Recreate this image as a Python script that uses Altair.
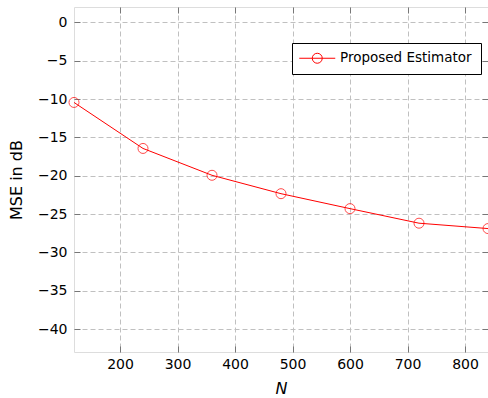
import altair as alt
import pandas as pd

N_values = [120, 240, 360, 480, 600, 720, 840]
mse_db = [-10.45, -16.45, -19.95, -22.35, -24.3, -26.2, -26.9]
series_name = ["Proposed Estimator"] * len(N_values)

x_ticks = [200, 300, 400, 500, 600, 700, 800]
y_ticks = [-40, -35, -30, -25, -20, -15, -10, -5, 0]
x_domain = [120, 840]
y_domain = [-43, 2]

df = pd.DataFrame({"N": N_values, "MSE": mse_db, "series": series_name})

FONT = "DejaVu Sans"
RED = "#ff0000"

color = alt.Color(
    "series:N",
    scale=alt.Scale(domain=["Proposed Estimator"], range=[RED]),
    legend=alt.Legend(
        title=None,
        orient="none",
        legendX=218,
        legendY=36,
        symbolType="M-9,0 L9,0 M2.5,0 A2.5,2.5 0 1,1 -2.5,0 A2.5,2.5 0 1,1 2.5,0",
        symbolSize=16,
        symbolStrokeWidth=1,
        symbolFillColor="transparent",
        symbolOffset=10,
        labelOffset=16,
        labelFont=FONT,
        labelFontSize=13.5,
        labelColor="#000000",
        padding=8.5,
        strokeColor="#000000",
        fillColor="#ffffff",
        cornerRadius=0,
    ),
)

x_main = alt.X(
    "N:Q",
    scale=alt.Scale(domain=x_domain, nice=False, zero=False),
    axis=alt.Axis(
        values=x_ticks,
        title="N",
        titleFontStyle="italic",
        titleFont=FONT,
        titleFontSize=16,
        titleFontWeight="normal",
        titleColor="#000000",
        titlePadding=9,
        labelFont=FONT,
        labelFontSize=14,
        labelColor="#000000",
        labelPadding=5,
        offset=-6,
        tickSize=6,
        tickColor="#777777",
        domain=False,
        grid=True,
        gridDash=[5, 3],
        gridColor="#c0c0c0",
        labelFlush=False,
    ),
)
y_main = alt.Y(
    "MSE:Q",
    scale=alt.Scale(domain=y_domain, nice=False, zero=False),
    axis=alt.Axis(
        values=y_ticks,
        title="MSE in dB",
        titleFont=FONT,
        titleFontSize=16,
        titleFontWeight="normal",
        titleColor="#000000",
        titlePadding=13,
        labelFont=FONT,
        labelFontSize=14,
        labelColor="#000000",
        labelPadding=7,
        offset=-6,
        tickSize=6,
        tickColor="#777777",
        domain=False,
        grid=True,
        gridDash=[5, 3],
        gridColor="#c0c0c0",
        labelFlush=False,
    ),
)

line = alt.Chart(df).mark_line(strokeWidth=1, clip=True).encode(
    x=x_main, y=y_main, color=color
)

points = alt.Chart(df).mark_point(
    shape="circle", filled=False, size=100, strokeWidth=1, color=RED, clip=False
).encode(
    x=alt.X("N:Q", axis=alt.Axis(
        orient="top", values=x_ticks, labels=False, title=None, offset=-6,
        tickSize=6, tickColor="#777777", domain=False, grid=False)),
    y=alt.Y("MSE:Q", axis=alt.Axis(
        orient="right", values=y_ticks, labels=False, title=None, offset=-6,
        tickSize=6, tickColor="#777777", domain=False, grid=False)),
)

chart = (
    alt.layer(line, points)
    .resolve_axis(x="independent", y="independent")
    .properties(
        width=414,
        height=345,
        autosize=alt.AutoSizeParams(type="none"),
        padding={"left": 74, "top": 7, "right": 0, "bottom": 46},
    )
    .configure_view(stroke="#444444", strokeWidth=1)
    .configure(background="#ffffff")
)

chart.save("out.html", embed_options={"renderer": "svg", "actions": False})
